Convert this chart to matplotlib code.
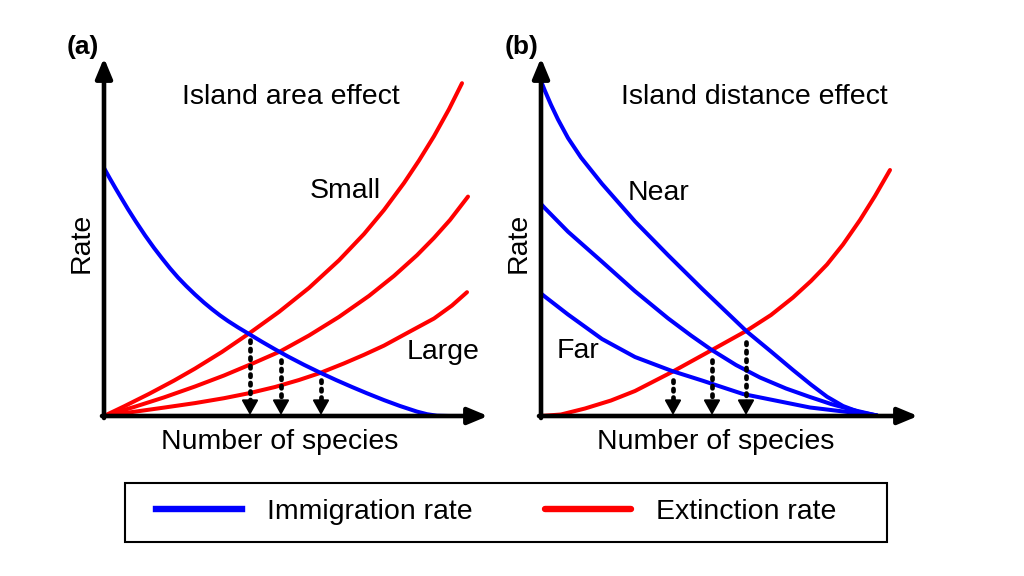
import matplotlib
matplotlib.use("Agg")
import matplotlib.pyplot as plt
from matplotlib.lines import Line2D
from matplotlib.patches import Rectangle

plt.rcParams['font.family'] = ['Liberation Sans', 'DejaVu Sans']

BLUE, RED = '#0000ff', '#ff0000'

# panel (a): island area effect  (x = number of species, y = rate, arbitrary units)
imm_a_x = [0, 6, 12, 18, 24, 32, 41, 50, 58, 66, 74, 82, 91, 100, 108, 116, 124, 134, 145,
           158, 171, 184, 200, 216, 232, 248, 263, 280, 296, 313, 323, 333, 345, 356]
imm_a_y = [248, 237.3, 226.9, 216.8, 206.8, 194.2, 180.7, 168.1, 157.7, 147.7, 138.5, 130.2,
           121.5, 113.4, 106.8, 100.6, 95, 88.6, 82, 74.2, 66.7, 59.5, 51.2, 43.4, 36, 29,
           22.7, 15.9, 10, 4.4, 1.8, 0.3, 0, 0]
ext_small_x = [0, 20, 45, 70, 91, 118, 145, 175, 205, 235, 260, 280, 300, 315, 330, 345, 358]
ext_small_y = [0, 9.6, 22.1, 35.4, 47.4, 64.1, 82.5, 104.1, 128.1, 155.7, 182, 206, 233,
               255.5, 279.8, 306.8, 332.8]
ext_mid_x = [0, 30, 60, 91, 120, 150, 176, 205, 235, 265, 290, 313, 330, 346, 364]
ext_mid_y = [0, 9, 18.6, 29.5, 40.5, 53.1, 64.5, 80.5, 99.1, 120.1, 140.1, 160.8, 178.1,
             196, 219.4]
ext_large_x = [0, 30, 60, 91, 120, 146, 171, 195, 216, 240, 260, 280, 305, 330, 348, 363]
ext_large_y = [0, 4.2, 8.4, 12.9, 17.8, 23, 29, 36, 43, 52.6, 61.2, 70.4, 84, 97.5, 110.5, 123.8]
eq_a_x = [146, 177, 217]
eq_a_top = [76, 56, 36]

# panel (b): island distance effect
imm_near_x = [0, 4, 10, 17, 27, 40, 61, 94, 127, 161, 206, 230, 252, 270, 286, 302, 318, 336]
imm_near_y = [335, 325, 311.2, 296.5, 278, 258.5, 232.2, 194.6, 160.9, 127.3, 84.3, 64.5, 46,
              31.4, 19.3, 10, 4, 0.5]
imm_mid_x = [0, 4, 27, 61, 94, 127, 150, 170, 195, 219, 245, 269, 290, 310, 336]
imm_mid_y = [212, 207.7, 184.3, 154.3, 124.8, 97.7, 80.5, 66.5, 51, 38.5, 27.5, 19, 12, 6.5, 0.5]
imm_far_x = [0, 4, 27, 61, 94, 131, 161, 202, 269, 336]
imm_far_y = [122.5, 119.3, 101.5, 77, 59, 45, 35.5, 22, 8.5, 0.5]
ext_b_x = [0, 20, 44, 70, 94, 131, 170, 206, 230, 252, 270, 286, 302, 319, 334, 349]
ext_b_y = [0, 1.5, 7.5, 15.5, 25, 44, 65.5, 85.5, 101, 118.5, 135, 151.5, 171.5, 196, 220, 246]
eq_b_x = [132, 171, 205]
eq_b_top = [36, 56, 74]

W, H = 1024, 576
fig = plt.figure(figsize=(W / 100, H / 100), dpi=100)

AX_W, AX_H = 390, 365
FS = 20.5


def make_axes(ox, oy):
    ax = fig.add_axes([ox / W, (H - oy) / H, AX_W / W, AX_H / H])
    ax.set_xlim(0, AX_W)
    ax.set_ylim(0, AX_H)
    ax.axis('off')
    return ax


def draw_frame(ax, xlen, ylen):
    arrow = dict(arrowstyle='-|>,head_length=0.6,head_width=0.25', lw=3.3,
                 color='black', shrinkA=0, shrinkB=0, mutation_scale=20)
    ax.annotate('', xy=(0, ylen), xytext=(0, -2), arrowprops=arrow)
    ax.annotate('', xy=(xlen, 0), xytext=(-2, 0), arrowprops=arrow)


def draw_eq(ax, xs, tops):
    for x, top in zip(xs, tops):
        ax.plot([x, x], [top, 10], color='black', lw=3.4, ls=(0, (0.5, 1.3)),
                dash_capstyle='round')
        ax.annotate('', xy=(x, 1), xytext=(x, 12),
                    arrowprops=dict(arrowstyle='-|>,head_length=0.5,head_width=0.28',
                                    lw=1.5, color='black', shrinkA=0, shrinkB=0,
                                    mutation_scale=18))


LW = 2.9
kw = dict(lw=LW, solid_capstyle='round', solid_joinstyle='round')

# ---- panel (a)
ax_a = make_axes(104, 416)
ax_a.plot(ext_small_x, ext_small_y, color=RED, **kw)
ax_a.plot(ext_mid_x, ext_mid_y, color=RED, **kw)
ax_a.plot(ext_large_x, ext_large_y, color=RED, **kw)
ax_a.plot(imm_a_x, imm_a_y, color=BLUE, **kw)
draw_eq(ax_a, eq_a_x, eq_a_top)
draw_frame(ax_a, 384, 358)
ax_a.text(187, 319, 'Island area effect', fontsize=FS, ha='center', va='center')
ax_a.text(241, 225, 'Small', fontsize=FS, ha='center', va='center')
ax_a.text(339, 64, 'Large', fontsize=FS, ha='center', va='center')
ax_a.text(176, -26, 'Number of species', fontsize=FS, ha='center', va='center')
ax_a.text(-22, 173, 'Rate', fontsize=FS, ha='center', va='center', rotation=90)
ax_a.text(-21, 369, '(a)', fontsize=19, fontweight='bold', ha='center', va='center')

# ---- panel (b)
ax_b = make_axes(541, 416)
ax_b.plot(ext_b_x, ext_b_y, color=RED, **kw)
ax_b.plot(imm_near_x, imm_near_y, color=BLUE, **kw)
ax_b.plot(imm_mid_x, imm_mid_y, color=BLUE, **kw)
ax_b.plot(imm_far_x, imm_far_y, color=BLUE, **kw)
draw_eq(ax_b, eq_b_x, eq_b_top)
draw_frame(ax_b, 377, 358)
ax_b.text(213, 319, 'Island distance effect', fontsize=FS, ha='center', va='center')
ax_b.text(118, 223, 'Near', fontsize=FS, ha='center', va='center')
ax_b.text(37, 65, 'Far', fontsize=FS, ha='center', va='center')
ax_b.text(175, -26, 'Number of species', fontsize=FS, ha='center', va='center')
ax_b.text(-22, 173, 'Rate', fontsize=FS, ha='center', va='center', rotation=90)
ax_b.text(-19, 369, '(b)', fontsize=19, fontweight='bold', ha='center', va='center')

# ---- legend (frame drawn separately so the box can be wider than its content)
fig.patches.append(Rectangle((125 / W, (H - 542) / H), 762 / W, 59 / H,
                             transform=fig.transFigure, fill=False,
                             edgecolor='black', lw=1.5))
handles = [Line2D([], [], color=BLUE, lw=4.6), Line2D([], [], color=RED, lw=4.6, solid_capstyle='round')]
fig.legend(handles, ['Immigration rate', 'Extinction rate'], ncol=2,
           loc='center', bbox_to_anchor=(496.5 / W, (H - 512) / H),
           frameon=False, prop={'size': 20.5},
           handlelength=3.0, handletextpad=0.9, columnspacing=2.55,
           borderpad=0, borderaxespad=0)

fig.savefig('out.png', dpi=100, facecolor='white')
